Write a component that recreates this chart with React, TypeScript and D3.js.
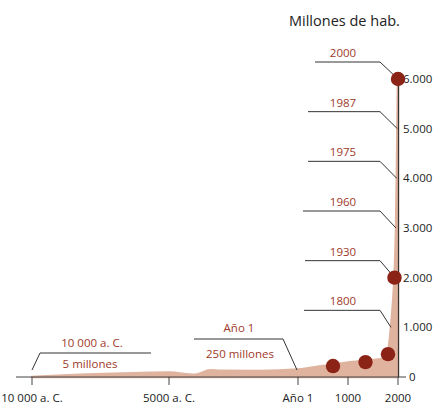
import React from 'react';
import * as d3 from 'd3';

// population (millions) by year
const popYears = [-10000, -9500, -8000, -6000, -5000, -4000, -3400, -3000, -1500, 0, 500, 1000, 1350, 1700, 1800, 1850, 1900, 1930, 1960, 1975, 1987, 2000];
const popValues = [0, 15, 50, 80, 90, 45, 135, 125, 120, 150, 220, 290, 330, 370, 500, 900, 1500, 2000, 3000, 4000, 5000, 6000];

const dotYears = [700, 1350, 1800, 1930, 2000];
const dotValues = [220, 300, 460, 2000, 6000];

const tickYears = [-10000, -5000, 0, 1000, 2000];
const tickLabels = ['10 000 a. C.', '5000 a. C.', 'Año 1', '1000', '2000'];

const yTicks = [0, 1000, 2000, 3000, 4000, 5000, 6000];
const yTickLabels = ['0', '1.000', '2.000', '3.000', '4.000', '5.000', '6.000'];

// right-side milestones: label, point the leader aims at, left end of leader
const markLabels = ['2000', '1987', '1975', '1960', '1930', '1800'];
const markYears = [2000, 1987, 1975, 1960, 1930, 1860];
const markValues = [6000, 5000, 4000, 3000, 2000, 1000];
const markLeft = [315, 308, 308, 303, 305, 304];

const red = '#a0392a';
const dark = '#222';
const font = 'Open Sans, sans-serif';

export default function App() {
  const x = d3.scaleLinear().domain(tickYears).range([32, 169, 298, 348, 398]);
  const y = d3.scaleLinear().domain([0, 6000]).range([377, 79]);

  const pts = popYears.map((yr, i) => [yr, popValues[i]] as [number, number]);
  const area = d3.area<[number, number]>()
    .x((d) => x(d[0]))
    .y0(y(0))
    .y1((d) => y(d[1]))
    .curve(d3.curveMonotoneX);

  return (
    <svg width={436} height={407} style={{ position: 'absolute', left: 0, top: 0 }} fontFamily={font}>
      <text x={289} y={26} fontSize={14.5} fill={dark}>Millones de hab.</text>

      <path d={area(pts) ?? ''} fill="#dfb39e" stroke="#dfb39e" strokeWidth={2.5} strokeLinejoin="round" />

      {/* x axis */}
      <line x1={16} x2={406} y1={y(0)} y2={y(0)} stroke="#444" strokeWidth={1} />
      {tickYears.map((t, i) => (
        <g key={t}>
          <line x1={x(t)} x2={x(t)} y1={y(0)} y2={y(0) + 8} stroke="#444" />
          <text x={x(t)} y={402} textAnchor="middle" fontSize={11.5} fill={dark}>{tickLabels[i]}</text>
        </g>
      ))}

      {/* y axis */}
      <line x1={398.5} x2={398.5} y1={y(0)} y2={y(6000)} stroke="#333" strokeWidth={1.2} />
      {yTicks.map((t, i) => (
        <text key={t} x={i === 0 ? 409 : 403} y={y(t) + 4} fontSize={11.5} fill={dark}>{yTickLabels[i]}</text>
      ))}

      {/* milestone leaders */}
      {markLabels.map((lab, i) => {
        const tx = x(markYears[i]);
        const ty = y(markValues[i]);
        const ly = ty - 17;
        return (
          <g key={lab}>
            <polyline points={`${markLeft[i]},${ly} 380,${ly} ${tx},${ty}`} fill="none" stroke="#333" strokeWidth={1} />
            <text x={343} y={ly - 5} textAnchor="middle" fontSize={11.5} fill={red}>{lab}</text>
          </g>
        );
      })}

      {/* left annotations */}
      <polyline points={`${x(-10000)},370 40,353 151,353`} fill="none" stroke="#333" />
      <text x={92} y={347} textAnchor="middle" fontSize={11.5} fill={red}>10 000 a. C.</text>
      <text x={90} y={368} textAnchor="middle" fontSize={11.5} fill={red}>5 millones</text>

      <polyline points={`194,339 283,339 ${x(0) - 1},370`} fill="none" stroke="#333" />
      <text x={239} y={332} textAnchor="middle" fontSize={11.5} fill={red}>Año 1</text>
      <text x={240} y={358} textAnchor="middle" fontSize={11.5} fill={red}>250 millones</text>

      {dotYears.map((yr, i) => (
        <circle key={yr} cx={x(yr)} cy={y(dotValues[i])} r={7.2} fill="#8b2316" />
      ))}
    </svg>
  );
}
